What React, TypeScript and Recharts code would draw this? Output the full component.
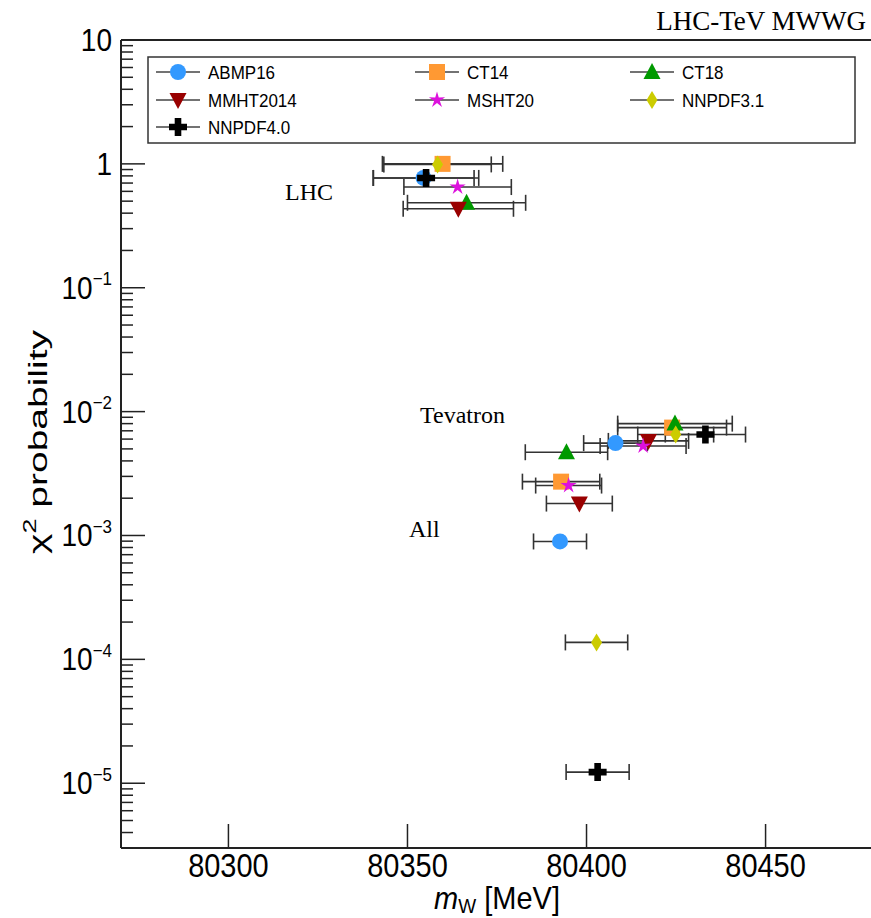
import React from "react";
import { ScatterChart, Scatter, XAxis, YAxis, ErrorBar, ReferenceLine } from "recharts";

/* ── chi2 probability of the W-mass combination, per PDF set ── */

const pdfSets = ["ABMP16", "CT14", "CT18", "MMHT2014", "MSHT20", "NNPDF3.1", "NNPDF4.0"];
const pdfColors = ["#3399ff", "#ff9933", "#009900", "#990000", "#dd11dd", "#cccc00", "#000000"];
const pdfMarkers = ["circle", "square", "up", "down", "star", "diamond", "cross"];

// LHC-only combination
const lhcMass = [80354.5, 80359.8, 80366.5, 80364.2, 80364.0, 80358.4, 80355.2];
const lhcErr = [14.1, 16.8, 16.5, 15.4, 15.0, 15.0, 14.7];
const lhcProb = [0.77, 1.0, 0.485, 0.434, 0.65, 0.99, 0.77];

// Tevatron-only combination
const tevMass = [80408.1, 80423.9, 80424.7, 80417.3, 80415.8, 80424.9, 80433.2];
const tevErr = [8.9, 15.2, 16.0, 11.2, 12.0, 10.6, 11.2];
const tevProb = [0.00557, 0.00743, 0.008, 0.0058, 0.00527, 0.00653, 0.00653];

// all experiments
const allMass = [80392.6, 80392.9, 80394.4, 80398.0, 80395.0, 80402.8, 80403.1];
const allErr = [7.4, 10.8, 11.5, 9.2, 9.2, 8.7, 8.8];
const allProb = [0.000895, 0.00272, 0.0047, 0.00181, 0.00253, 0.000137, 0.0000123];

const xTicks = [80300, 80350, 80400, 80450];
const yDecades = [-6, -5, -4, -3, -2, -1, 0, 1];

const Y_MIN = 3e-6;
const Y_MAX = 10;

const yTicks: number[] = [];
yDecades.forEach((k) => {
  for (let m = 1; m <= 9; m++) {
    const v = m * Math.pow(10, k);
    if (v >= Y_MIN * 0.999 && v <= Y_MAX * 1.001) yTicks.push(v);
  }
});

const SANS = "'Liberation Sans', Arial, Helvetica, sans-serif";
const SERIF = "'Liberation Serif', 'Times New Roman', serif";
const AXIS = "#222";

function Marker({ kind, cx, cy, color }: { kind: string; cx: number; cy: number; color: string }) {
  if (cx == null || cy == null) return null;
  switch (kind) {
    case "circle":
      return <circle cx={cx} cy={cy} r={8} fill={color} />;
    case "square":
      return <rect x={cx - 8} y={cy - 8} width={16} height={16} fill={color} />;
    case "up":
      return <polygon points={`${cx},${cy - 9} ${cx + 8.5},${cy + 7} ${cx - 8.5},${cy + 7}`} fill={color} />;
    case "down":
      return <polygon points={`${cx},${cy + 9} ${cx + 8.5},${cy - 7} ${cx - 8.5},${cy - 7}`} fill={color} />;
    case "diamond":
      return <polygon points={`${cx},${cy - 9} ${cx + 5.5},${cy} ${cx},${cy + 9} ${cx - 5.5},${cy}`} fill={color} />;
    case "star": {
      const pts: string[] = [];
      for (let i = 0; i < 10; i++) {
        const r = i % 2 === 0 ? 8.5 : 3;
        const a = -Math.PI / 2 + (i * Math.PI) / 5;
        pts.push(`${cx + r * Math.cos(a)},${cy + r * Math.sin(a)}`);
      }
      return <polygon points={pts.join(" ")} fill={color} />;
    }
    case "cross": {
      const h = 9, t = 3.3;
      return (
        <polygon
          points={`${cx - t},${cy - h} ${cx + t},${cy - h} ${cx + t},${cy - t} ${cx + h},${cy - t} ${cx + h},${cy + t} ${cx + t},${cy + t} ${cx + t},${cy + h} ${cx - t},${cy + h} ${cx - t},${cy + t} ${cx - h},${cy + t} ${cx - h},${cy - t} ${cx - t},${cy - t}`}
          fill={color}
        />
      );
    }
    default:
      return null;
  }
}

function YTick(props: any) {
  const { x, y, payload } = props;
  const e = Math.log10(payload.value);
  const k = Math.round(e);
  const major = Math.abs(e - k) < 1e-6;
  return (
    <g>
      <line x1={x} x2={x + (major ? 24 : 12)} y1={y} y2={y} stroke={AXIS} strokeWidth={1.5} />
      {major && (
        <text
          transform={`translate(${x - 9},${y + 11}) scale(1,1.12)`}
          textAnchor="end"
          fontFamily={SANS}
          fontSize={28}
          fill="#000"
        >
          {k === 0 ? "1" : k === 1 ? "10" : (
            <>
              <tspan>10</tspan>
              <tspan dy={-12} fontSize={17}>{"\u2212" + -k}</tspan>
            </>
          )}
        </text>
      )}
    </g>
  );
}

function XTick(props: any) {
  const { x, y, payload } = props;
  return (
    <g>
      <line x1={x} x2={x} y1={y} y2={y - 24} stroke={AXIS} strokeWidth={1.5} />
      <text
        transform={`translate(${x},${y + 29}) scale(1,1.12)`}
        textAnchor="middle"
        fontFamily={SANS}
        fontSize={29}
        fill="#000"
      >
        {payload.value}
      </text>
    </g>
  );
}

const legendCols = [178, 437, 652];
const legendRows = [72, 100, 127];

function LegendBox() {
  return (
    <g>
      <rect x={148} y={57} width={707} height={86} fill="#fff" stroke="#333" strokeWidth={1.5} />
      {pdfSets.map((name, i) => {
        const cx = legendCols[i % 3];
        const cy = legendRows[Math.floor(i / 3)];
        return (
          <g key={name}>
            <line x1={cx - 22} x2={cx + 22} y1={cy} y2={cy} stroke="#444" strokeWidth={1.5} />
            <Marker kind={pdfMarkers[i]} cx={cx} cy={cy} color={pdfColors[i]} />
            <text
              transform={`translate(${cx + 30},${cy + 6.5}) scale(1,1.1)`}
              fontFamily={SANS}
              fontSize={17}
              fill="#000"
            >
              {name}
            </text>
          </g>
        );
      })}
    </g>
  );
}

export default function App() {
  const series = pdfSets.map((name, i) => ({
    name,
    data: [
      { x: lhcMass[i], y: lhcProb[i], err: lhcErr[i] },
      { x: tevMass[i], y: tevProb[i], err: tevErr[i] },
      { x: allMass[i], y: allProb[i], err: allErr[i] },
    ],
  }));

  return (
    <div style={{ position: "absolute", left: 0, top: 0, width: 871, height: 918, overflow: "hidden", background: "#fff" }}>
      <ScatterChart width={880} height={918} margin={{ top: 40, right: 7, bottom: 0, left: 0 }}>
        <XAxis
          dataKey="x"
          type="number"
          domain={[80270, 80480]}
          allowDataOverflow
          ticks={xTicks}
          interval={0}
          tick={XTick}
          tickLine={false}
          tickSize={0}
          tickMargin={0}
          height={70}
          axisLine={{ stroke: AXIS, strokeWidth: 2 }}
        />
        <YAxis
          dataKey="y"
          type="number"
          scale="log"
          domain={[Y_MIN, Y_MAX]}
          allowDataOverflow
          ticks={yTicks}
          interval={0}
          tick={YTick}
          tickLine={false}
          tickSize={0}
          tickMargin={0}
          width={121}
          axisLine={{ stroke: AXIS, strokeWidth: 2 }}
        />
        <ReferenceLine y={Y_MAX} stroke={AXIS} strokeWidth={2} />
        {series.map((s, i) => (
          <Scatter
            key={s.name}
            name={s.name}
            data={s.data}
            isAnimationActive={false}
            shape={(p: any) => <Marker kind={pdfMarkers[i]} cx={p.cx} cy={p.cy} color={pdfColors[i]} />}
          >
            <ErrorBar dataKey="err" direction="x" width={8} stroke="#333" strokeWidth={1.6} isAnimationActive={false} />
          </Scatter>
        ))}
      </ScatterChart>

      <svg width={871} height={918} style={{ position: "absolute", left: 0, top: 0, pointerEvents: "none" }}>
        <LegendBox />
        <text x={866} y={30} textAnchor="end" fontFamily={SERIF} fontSize={27} fill="#000">LHC-TeV MWWG</text>
        <text x={285} y={200} fontFamily={SERIF} fontSize={24} fill="#000">LHC</text>
        <text x={420} y={423} fontFamily={SERIF} fontSize={24} fill="#000">Tevatron</text>
        <text x={409} y={537} fontFamily={SERIF} fontSize={24} fill="#000">All</text>
        <text
          transform="translate(497,909) scale(1,1.08)"
          textAnchor="middle"
          fontFamily={SANS}
          fontSize={29}
          fill="#000"
        >
          <tspan fontStyle="italic">m</tspan>
          <tspan dy={4} fontSize={19}>W</tspan>
          <tspan dy={-4}> [MeV]</tspan>
        </text>
        <text
          transform="translate(47,442) rotate(-90) scale(1.5,1)"
          textAnchor="middle"
          fontFamily={SANS}
          fontSize={26}
          fill="#000"
        >
          <tspan>χ</tspan>
          <tspan dy={-11} fontSize={18}>2</tspan>
          <tspan dy={11}> probability</tspan>
        </text>
      </svg>
    </div>
  );
}
